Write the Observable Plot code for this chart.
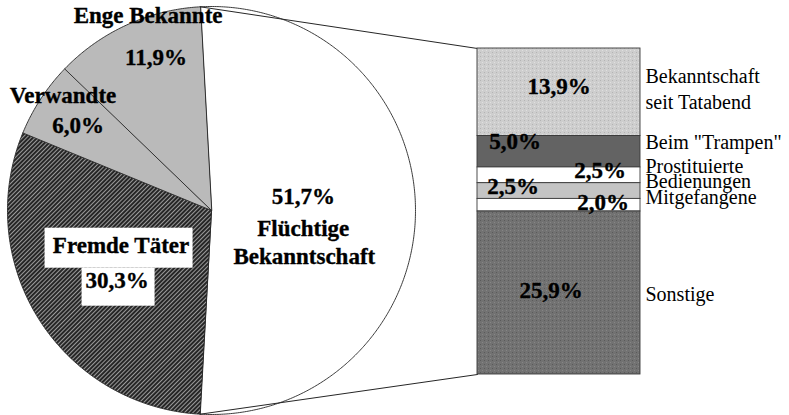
<!DOCTYPE html>
<html><head><meta charset="utf-8">
<script src="https://cdn.jsdelivr.net/npm/d3@7"></script>
<script src="https://cdn.jsdelivr.net/npm/@observablehq/plot@0.6"></script>
<style>html,body{margin:0;padding:0;background:#fff}#chart svg{display:block}</style>
</head><body><div id="chart"></div>
<script>
// ---- data ----
const pieCategories = ["Flüchtige Bekanntschaft", "Fremde Täter", "Verwandte", "Enge Bekannte"];
const pieValues = [51.7, 30.3, 6.0, 11.9];
const barCategories = ["Bekanntschaft seit Tatabend", "Beim \"Trampen\"", "Prostituierte", "Bedienungen", "Mitgefangene", "Sonstige"];
const barValues = [13.9, 5.0, 2.5, 2.5, 2.0, 25.9];
const fmt = v => v.toFixed(1).replace(".", ",") + "%";

// ---- styles / layout ----
const pieFills = ["#ffffff", "url(#hatch)", "#bababa", "#bababa"];
const barFills = ["url(#stipLight)", "#636363", "#ffffff", "#c4c4c4", "#ffffff", "url(#stipDark)"];
const W = 789, H = 415;
const cx = 211, cy = 210, R = 204;
const barX1 = 477, barX2 = 640, barTop = 48, barBottom = 374;
const serif = "'Liberation Serif','Times New Roman',serif";

// pie label layout: radius fraction + per-line offsets
const pieLabelLayout = [
  {rho: 0.45, lines: [{k: "pct", dx: 0, dy: -14}, {t: "Flüchtige", dx: 0, dy: 18}, {t: "Bekanntschaft", dx: 1, dy: 46}]},
  {rho: 0.53, lines: [{t: "Fremde Täter", dx: 1, dy: -23, box: [-76, 72, -17, 23]}, {k: "pct", dx: -3, dy: 12, box: [-35, 38, -12, 26]}]},
  {rho: 0.84, lines: [{t: "Verwandte", dx: -5, dy: -21}, {k: "pct", dx: 10, dy: 9}]},
  {rho: 0.90, lines: [{t: "Enge Bekannte", dx: 13, dy: -28}, {k: "pct", dx: 21, dy: 14.5}]}
];
const barPctLayout = [[0, -5.5], [-44, -10], [41, -4.6], [-46, -4], [44, -3], [-8, -2]];
const barNameLayout = [[["Bekanntschaft", -16], ["seit Tatabend", 10]], [["Beim \"Trampen\"", -9.4]], [["Prostituierte", -9]], [["Bedienungen", -9.6]], [["Mitgefangene", -7.6]], [["Sonstige", 1.4]]];

// ---- pie geometry ----
const total = d3.sum(pieValues);
const split = pieValues[0] / total * 2 * Math.PI;
const a0 = Math.PI / 2 - split / 2;
const arcs = d3.pie().sort(null).startAngle(a0).endAngle(a0 + 2 * Math.PI)(pieValues);
const pt = (a, rr = R) => [cx + rr * Math.sin(a), cy - rr * Math.cos(a)];

const sliceMarks = arcs.map((arc, i) => {
  const n = Math.max(2, Math.ceil((arc.endAngle - arc.startAngle) / (Math.PI / 360)));
  const pts = [{x: cx, y: cy}];
  for (let k = 0; k <= n; k++) {
    const a = arc.startAngle + (arc.endAngle - arc.startAngle) * k / n;
    const [x, y] = pt(a);
    pts.push({x, y});
  }
  return Plot.line(pts, {x: "x", y: "y", fill: pieFills[i], stroke: "#262626", strokeWidth: 0.9, curve: "linear-closed"});
});

// pie labels
const pieTexts = [], pieBoxes = [];
arcs.forEach((arc, i) => {
  const L = pieLabelLayout[i];
  const mid = (arc.startAngle + arc.endAngle) / 2;
  const [ax, ay] = pt(mid, L.rho * R);
  L.lines.forEach(l => {
    const text = l.k === "pct" ? fmt(pieValues[i]) : l.t;
    pieTexts.push({x: ax + l.dx, y: ay + l.dy, text});
    if (l.box) pieBoxes.push({x1: ax + l.dx + l.box[0], x2: ax + l.dx + l.box[1], y1: ay + l.dy + l.box[2], y2: ay + l.dy + l.box[3]});
  });
});

// bar geometry
const k = (barBottom - barTop) / d3.sum(barValues);
let cum = 0;
const barRects = barValues.map((v, i) => {
  const y1 = barTop + cum * k; cum += v;
  const y2 = barTop + cum * k;
  return {y1, y2, fill: barFills[i], mid: (y1 + y2) / 2, v, i};
});
const barPctTexts = barRects.map(b => ({x: (barX1 + barX2) / 2 + barPctLayout[b.i][0], y: b.mid + barPctLayout[b.i][1], text: fmt(b.v)}));
const barNameTexts = barRects.flatMap(b => barNameLayout[b.i].map(([t, dy]) => ({x: barX2 + 5, y: b.mid + dy, text: t})));

// connectors
const pStart = pt(arcs[0].startAngle), pEnd = pt(arcs[0].endAngle);
const connectors = [
  {g: 0, x: pStart[0], y: pStart[1]}, {g: 0, x: barX1, y: barTop},
  {g: 1, x: pEnd[0], y: pEnd[1]}, {g: 1, x: barX1, y: barBottom}
];

const boldText = {x: "x", y: "y", text: "text", fontSize: 23, fontWeight: "bold", fontFamily: serif, fill: "#000", stroke: "#000", strokeWidth: 0.35};

const chart = Plot.plot({
  width: W, height: H, margin: 0,
  x: {domain: [0, W], range: [0, W], axis: null},
  y: {domain: [0, H], range: [0, H], axis: null},
  color: {type: "identity"},
  style: {background: "#fff", overflow: "visible"},
  marks: [
    ...sliceMarks,
    Plot.line(connectors, {x: "x", y: "y", z: "g", stroke: "#262626", strokeWidth: 1}),
    Plot.rect(barRects, {x1: () => barX1, x2: () => barX2, y1: "y1", y2: "y2", fill: "fill", stroke: "#3a3a3a", strokeWidth: 0.9}),
    Plot.rect(pieBoxes, {x1: "x1", x2: "x2", y1: "y1", y2: "y2", fill: "#fff"}),
    Plot.text(pieTexts, boldText),
    Plot.text(barPctTexts, boldText),
    Plot.text(barNameTexts, {x: "x", y: "y", text: "text", textAnchor: "start", fontSize: 20, fontFamily: serif, fill: "#000"})
  ]
});

const defs = `<defs>
<pattern id="hatch" patternUnits="userSpaceOnUse" width="3" height="3" patternTransform="rotate(45)">
<rect width="3" height="3" fill="#262626"/><line x1="1.5" y1="0" x2="1.5" y2="3" stroke="#9a9a9a" stroke-width="1"/></pattern>
<pattern id="stipLight" patternUnits="userSpaceOnUse" width="4" height="4">
<rect width="4" height="4" fill="#cecece"/><rect x="0" y="0" width="1" height="1" fill="#b4b4b4"/><rect x="2" y="2" width="1" height="1" fill="#e0e0e0"/></pattern>
<pattern id="stipDark" patternUnits="userSpaceOnUse" width="4" height="4">
<rect width="4" height="4" fill="#727272"/><rect x="0" y="0" width="1" height="1" fill="#5a5a5a"/><rect x="2" y="2" width="1" height="1" fill="#868686"/></pattern>
</defs>`;
chart.insertAdjacentHTML("afterbegin", defs);
document.getElementById("chart").appendChild(chart);
</script>
</body></html>
